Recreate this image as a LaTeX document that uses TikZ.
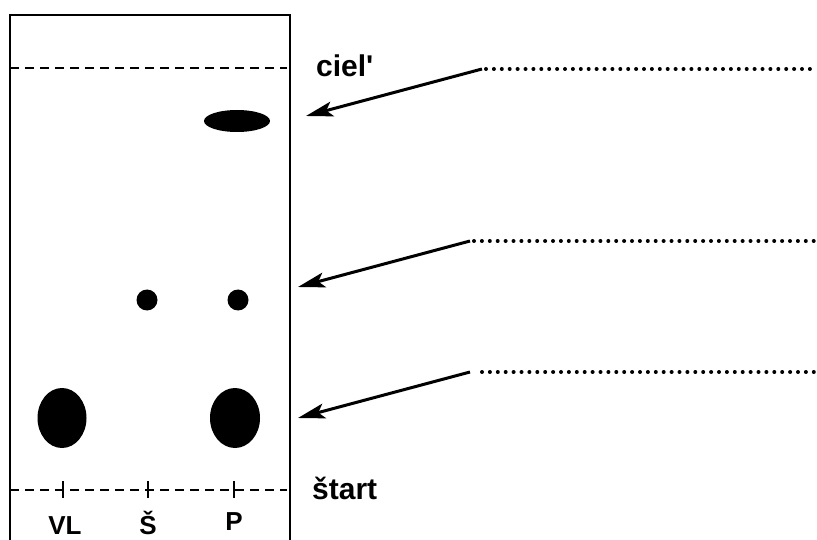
\documentclass[tikz,border=0pt]{standalone}
\usepackage{fontspec}
\setmainfont{Liberation Sans}
\usetikzlibrary{arrows.meta,shapes.geometric}
\tikzset{
  spot/.style={ellipse,fill=black,draw=none,inner sep=0pt},
  plate/.style={line width=2.6pt},
  level/.style={line width=2.4pt,dash pattern=on 9pt off 6pt},
  pointer/.style={line width=3pt,-{Stealth[length=27pt,width=15pt,inset=6pt]}},
  leader/.style={line width=4pt,line cap=round,dash pattern=on 0pt off 7.9pt},
  biglabel/.style={font=\bfseries\fontsize{30}{32}\selectfont,anchor=base west,inner sep=0pt},
  lanelabel/.style={font=\bfseries\fontsize{26}{28}\selectfont,anchor=base,inner sep=0pt}
}
\begin{document}
\begin{tikzpicture}[x=1pt,y=-1pt]
\useasboundingbox (0,0) rectangle (817,540);
% plate
\coordinate (bl) at (10,545);
\coordinate (tl) at (10,15);
\coordinate (tr) at (290,15);
\coordinate (br) at (290,545);
\draw[plate] (bl) -- (tl) -- (tr) -- (br);
% front line
\coordinate (fl) at (10,68);
\coordinate (fr) at (287,68);
\draw[level] (fl) -- (fr);
% start line
\coordinate (sl) at (10,490);
\coordinate (sr) at (287,490);
\draw[level] (sl) -- (sr);
\foreach \n/\x in {t1/63,t2/148,t3/234}{
  \coordinate (\n a) at (\x,481);
  \coordinate (\n b) at (\x,498);
  \draw[line width=2.4pt] (\n a) -- (\n b);
}
% spots
\node[spot,minimum width=66pt,minimum height=22pt] (s1) at (237,121) {};
\node[spot,minimum width=21pt,minimum height=21pt] (s2) at (147,300) {};
\node[spot,minimum width=21pt,minimum height=21pt] (s3) at (238,300) {};
\node[spot,minimum width=49pt,minimum height=60pt] (s4) at (62,418) {};
\node[spot,minimum width=50pt,minimum height=60pt] (s5) at (235,418) {};
% labels
\node[biglabel] (ciel) at (316,77) {ciel\textquotesingle};
\node[biglabel] (start) at (312,499) {štart};
\node[lanelabel] (vl) at (65,534) {VL};
\node[lanelabel] (ss) at (148,534) {Š};
\node[lanelabel] (pp) at (234,530) {P};
% pointers
\coordinate (a1s) at (482,69);
\coordinate (a1t) at (306,116);
\coordinate (a1e) at (817,69);
\coordinate (a2s) at (470,241);
\coordinate (a2t) at (298,287);
\coordinate (a2e) at (817,241);
\coordinate (a3s) at (470,372);
\coordinate (a3t) at (298,418);
\coordinate (a3e) at (817,372);
\draw[pointer] (a1s) -- (a1t);
\draw[pointer] (a2s) -- (a2t);
\draw[pointer] (a3s) -- (a3t);
\draw[leader] (a1s) ++(4,0) -- (a1e);
\draw[leader] (a2s) ++(4,0) -- (a2e);
\draw[leader] (a3s) ++(12,0) -- (a3e);
\end{tikzpicture}
\end{document}
